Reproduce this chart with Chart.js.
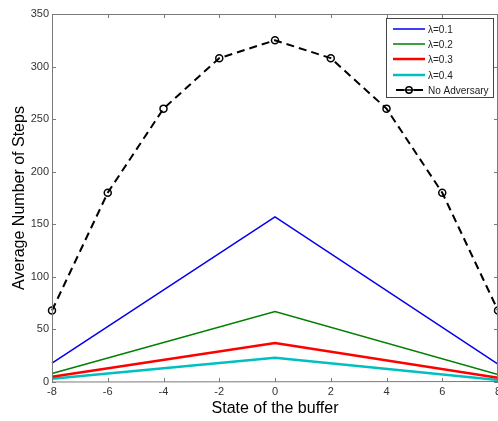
<!DOCTYPE html>
<html>
<head>
<meta charset="utf-8">
<script src="https://cdn.jsdelivr.net/npm/chart.js@4/dist/chart.umd.min.js"></script>
<style>
  html, body { margin: 0; padding: 0; background: #fff; }
  #wrap { width: 498px; height: 421px; position: relative; }
</style>
</head>
<body>
<div id="wrap"><canvas id="c" width="498" height="421"></canvas></div>
<script>
// ---- data ----
const bufferStates = [-8, -6, -4, -2, 0, 2, 4, 6, 8];
const noAdversary = [68, 180, 260, 308, 325, 308, 260, 180, 68];
const lambdaStates = [-8, 0, 8];
const lambda01 = [18, 157, 17];
const lambda02 = [8, 67, 7];
const lambda03 = [5, 37, 4];
const lambda04 = [3, 23, 2];
const seriesLabels = ['\u03bb=0.1', '\u03bb=0.2', '\u03bb=0.3', '\u03bb=0.4', 'No Adversary'];
const xTicks = [-8, -6, -4, -2, 0, 2, 4, 6, 8];
const yTicks = [0, 50, 100, 150, 200, 250, 300, 350];

const FONT = "'Liberation Sans', Arial, Helvetica, sans-serif";
const toPts = (xs, ys) => xs.map((x, i) => ({ x: x, y: ys[i] }));

// inward ticks + box (MATLAB style) + legend
const boxPlugin = {
  id: 'boxPlugin',
  afterDraw(chart) {
    const { ctx, chartArea: a, scales } = chart;
    ctx.save();
    ctx.strokeStyle = '#7a7a7a';
    ctx.lineWidth = 1;
    ctx.beginPath();
    ctx.moveTo(a.left + 0.5, a.top + 0.5);
    ctx.lineTo(a.right - 0.5, a.top + 0.5);
    ctx.lineTo(a.right - 0.5, a.bottom - 0.5);
    ctx.moveTo(a.left + 0.5, a.top);
    ctx.lineTo(a.left + 0.5, a.bottom);
    ctx.lineTo(a.right, a.bottom - 0.5);
    ctx.stroke();
    const tl = 4;
    ctx.beginPath();
    xTicks.forEach(v => {
      const px = Math.round(scales.x.getPixelForValue(v)) + 0.5;
      ctx.moveTo(px, a.bottom); ctx.lineTo(px, a.bottom - tl);
      ctx.moveTo(px, a.top); ctx.lineTo(px, a.top + tl);
    });
    yTicks.forEach(v => {
      const py = Math.round(scales.y.getPixelForValue(v)) + 0.5;
      ctx.moveTo(a.left, py); ctx.lineTo(a.left + tl, py);
      ctx.moveTo(a.right, py); ctx.lineTo(a.right - tl, py);
    });
    ctx.stroke();

    // legend box
    const bx = 386.5, by = 18.5, bw = 107, bh = 79;
    ctx.fillStyle = '#fff';
    ctx.fillRect(bx, by, bw, bh);
    ctx.strokeStyle = '#444';
    ctx.lineWidth = 1;
    ctx.strokeRect(bx, by, bw, bh);
    const rows = [29, 44, 59, 75, 90];
    ctx.font = '10px ' + FONT;
    ctx.textBaseline = 'middle';
    ctx.textAlign = 'left';
    chart.data.datasets.forEach((ds, i) => {
      const y = rows[i];
      ctx.strokeStyle = ds.borderColor;
      ctx.lineWidth = ds.borderWidth;
      ctx.setLineDash([]);
      ctx.beginPath();
      if (ds.borderDash) {
        ctx.moveTo(396, y); ctx.lineTo(404, y);
        ctx.moveTo(414, y); ctx.lineTo(423, y);
      } else {
        ctx.moveTo(393, y); ctx.lineTo(425, y);
      }
      ctx.stroke();
      if (ds.pointRadius) {
        ctx.lineWidth = 1.5;
        ctx.beginPath();
        ctx.arc(409, y, 3.2, 0, Math.PI * 2);
        ctx.stroke();
        ctx.beginPath();
        ctx.moveTo(404, y); ctx.lineTo(414, y);
        ctx.stroke();
      }
      ctx.fillStyle = '#222';
      ctx.fillText(ds.label, 428, y + 1);
    });
    ctx.restore();
  }
};

new Chart(document.getElementById('c'), {
  type: 'line',
  data: {
    datasets: [
      { label: seriesLabels[0], data: toPts(lambdaStates, lambda01), borderColor: '#0000ee', borderWidth: 1.5, pointRadius: 0, fill: false, tension: 0 },
      { label: seriesLabels[1], data: toPts(lambdaStates, lambda02), borderColor: '#007f00', borderWidth: 1.5, pointRadius: 0, fill: false, tension: 0 },
      { label: seriesLabels[2], data: toPts(lambdaStates, lambda03), borderColor: '#ff0000', borderWidth: 2.5, pointRadius: 0, fill: false, tension: 0 },
      { label: seriesLabels[3], data: toPts(lambdaStates, lambda04), borderColor: '#00bfbf', borderWidth: 2.5, pointRadius: 0, fill: false, tension: 0 },
      { label: seriesLabels[4], data: toPts(bufferStates, noAdversary), borderColor: '#000', borderWidth: 2, borderDash: [8, 5],
        pointRadius: 3.5, pointBorderWidth: 1.5, pointBorderColor: '#000', pointBackgroundColor: 'rgba(255,255,255,0)', fill: false, tension: 0 }
    ]
  },
  options: {
    responsive: false,
    animation: false,
    clip: false,
    layout: { autoPadding: false, padding: { top: 14, right: 0, left: 0, bottom: 0 } },
    plugins: { legend: { display: false }, tooltip: { enabled: false } },
    scales: {
      x: {
        type: 'linear', min: -8, max: 8,
        afterBuildTicks: s => { s.ticks = xTicks.map(v => ({ value: v })); },
        afterFit: s => { s.height = 39; s.paddingLeft = 0; s.paddingRight = 0; },
        grid: { display: false, drawTicks: false },
        border: { display: false },
        ticks: { color: '#333', font: { family: FONT, size: 11 }, padding: 3, maxRotation: 0, autoSkip: false },
        title: { display: true, text: 'State of the buffer', color: '#000', font: { family: FONT, size: 16 }, padding: { top: 0, bottom: 3 } }
      },
      y: {
        min: 0, max: 350,
        afterBuildTicks: s => { s.ticks = yTicks.map(v => ({ value: v })); },
        afterFit: s => { s.width = 52; s.paddingTop = 0; s.paddingBottom = 0; },
        grid: { display: false, drawTicks: false },
        border: { display: false },
        ticks: { color: '#333', font: { family: FONT, size: 11 }, padding: 3, autoSkip: false },
        title: { display: true, text: 'Average Number of Steps', color: '#000', font: { family: FONT, size: 16 }, padding: { top: 10, bottom: 0 } }
      }
    }
  },
  plugins: [boxPlugin]
});
</script>
</body>
</html>
